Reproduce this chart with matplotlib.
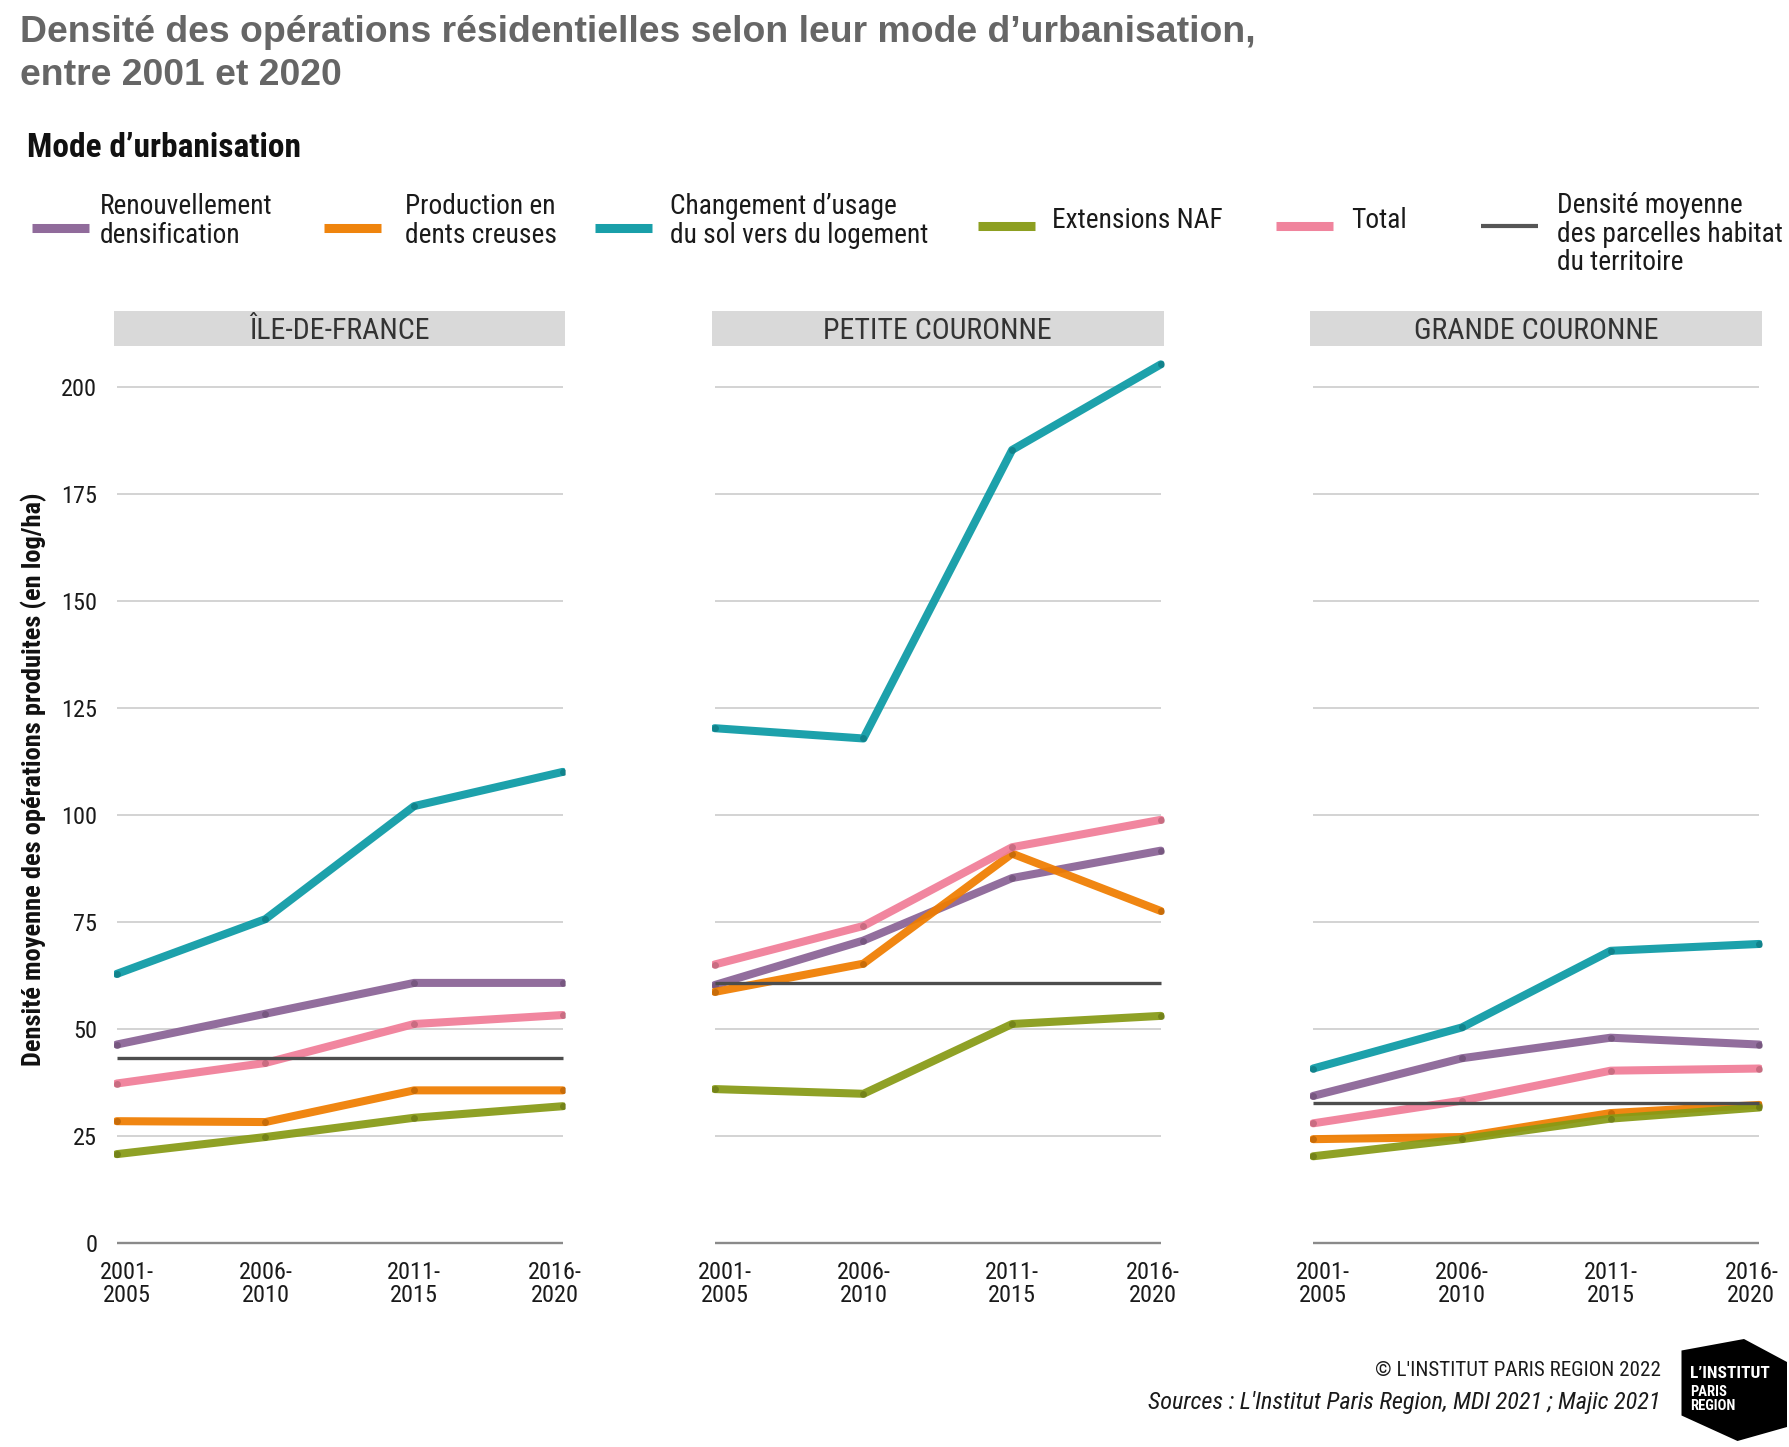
import matplotlib
matplotlib.use("Agg")
import matplotlib.pyplot as plt
from matplotlib import font_manager
from matplotlib.lines import Line2D
from matplotlib.patches import Polygon
from matplotlib.transforms import ScaledTranslation
from matplotlib.colors import to_rgb

# ---------------- data ----------------
periods = ["2001-\n2005", "2006-\n2010", "2011-\n2015", "2016-\n2020"]
panels = ["ÎLE-DE-FRANCE", "PETITE COURONNE", "GRANDE COURONNE"]
series_names = ["Renouvellement\ndensification", "Production en\ndents creuses",
                "Changement d’usage\ndu sol vers du logement", "Extensions NAF", "Total"]
mean_name = "Densité moyenne\ndes parcelles habitat\ndu territoire"

renouvellement = [[46.4, 53.6, 60.8, 60.8], [60.3, 70.7, 85.3, 91.7], [34.4, 43.2, 48.0, 46.4]]
production = [[28.5, 28.3, 35.7, 35.7], [58.7, 65.3, 91.0, 77.6], [24.3, 24.8, 30.4, 32.3]]
changement = [[62.9, 75.7, 102.1, 110.1], [120.3, 117.9, 185.3, 205.3], [40.8, 50.4, 68.3, 69.9]]
extensions = [[20.8, 24.8, 29.3, 32.0], [36.0, 34.9, 51.2, 53.1], [20.3, 24.3, 29.1, 31.7]]
total = [[37.3, 42.1, 51.2, 53.3], [65.1, 74.1, 92.5, 98.9], [28.0, 33.3, 40.3, 40.8]]
mean_density = [43.2, 60.8, 32.8]
yticks = [0, 25, 50, 75, 100, 125, 150, 175, 200]

colors = ["#8a6396", "#ef7d00", "#0c9aa5", "#879a15", "#f07d98"]
mean_color = "#4d4d4d"

# ---------------- fonts ----------------
avail = {f.name for f in font_manager.fontManager.ttflist}
def pick(*names):
    for n in names:
        if n in avail:
            return n
    return "DejaVu Sans"
WIDE = pick("Liberation Sans", "Arial", "DejaVu Sans")
NARROW = pick("Liberation Sans Narrow", "Roboto Condensed", "Open Sans Condensed", "Liberation Sans")

W, H = 1790, 1447
fig = plt.figure(figsize=(W / 100, H / 100), dpi=100)
fig.patch.set_facecolor("white")

def fx(px):
    return px / W
def fy(py):
    return 1 - py / H

def darker(c, f=0.7):
    r, g, b = to_rgb(c)
    return (r * f, g * f, b * f)

# ---------------- title ----------------
fig.text(fx(20), fy(14.5), "Densité des opérations résidentielles selon leur mode d’urbanisation,\nentre 2001 et 2020",
         ha="left", va="top", fontsize=26.9, fontweight="bold", color="#666666",
         family=WIDE, linespacing=1.3)

# ---------------- legend ----------------
fig.text(fx(27), fy(148), "Mode d’urbanisation", ha="left", va="center", fontsize=24,
         fontweight="bold", family=NARROW, color="#111111")

handle_x = [32, 324, 595, 978, 1276, 1481]
label_x = [100, 405, 670, 1052, 1351, 1557]
label_y = [221, 221, 221, 220, 220, 234]
handle_y = [228, 228, 228, 226, 226, 226]
leg_names = series_names + [mean_name]
leg_colors = colors + [mean_color]
for i in range(6):
    lw = 6.5 if i < 5 else 3
    fig.add_artist(Line2D([fx(handle_x[i]), fx(handle_x[i] + 57)], [fy(handle_y[i])] * 2,
                          color=leg_colors[i], lw=lw, solid_capstyle="butt",
                          alpha=0.95, transform=fig.transFigure))
    fig.text(fx(label_x[i]), fy(label_y[i]), leg_names[i], ha="left", va="center",
             fontsize=19.7, family=NARROW, color="#1a1a1a", linespacing=1.05)

# ---------------- panels ----------------
strip_left = [114, 712, 1310.5]
strip_w = 451.5
ax_top, ax_bot = 347, 1258
ymax, ymin = 209.35, -3.46
x = list(range(len(periods)))

all_series = [renouvellement, production, changement, extensions, total]
for p in range(3):
    ax = fig.add_axes([fx(strip_left[p]), fy(ax_bot), strip_w / W, (ax_bot - ax_top) / H])
    ax.set_xlim(-0.018, 3.018)
    ax.set_ylim(ymin, ymax)
    for s in ax.spines.values():
        s.set_visible(False)
    ax.hlines(yticks[1:], 0, 3, color="#d3d3d3", lw=1.4, zorder=1)
    ax.hlines([0], 0, 3, color="#8a8a8a", lw=1.7, zorder=1)
    ax.set_yticks(yticks)
    ax.set_xticks(x)
    ax.set_xticklabels(periods, fontsize=17.5, family=NARROW, color="#1a1a1a", linespacing=1.02)
    if p == 0:
        ax.set_yticklabels([str(t) for t in yticks], fontsize=17.5, family=NARROW, color="#1a1a1a")
    else:
        ax.set_yticklabels([])
    ax.tick_params(axis="both", length=0)
    ax.tick_params(axis="y", pad=12)
    ax.tick_params(axis="x", pad=2)
    xl = ax.get_xticklabels()
    xl[0].set_transform(xl[0].get_transform() + ScaledTranslation(10 / 100, 0, fig.dpi_scale_trans))
    xl[-1].set_transform(xl[-1].get_transform() + ScaledTranslation(-8 / 100, 0, fig.dpi_scale_trans))

    for k, ser in enumerate(all_series):
        ax.plot(x, ser[p], color=colors[k], lw=5.8, alpha=0.93, zorder=3 + k,
                solid_capstyle="round", solid_joinstyle="round")
        ax.plot(x, ser[p], "o", color=darker(colors[k]), ms=5, alpha=0.55, mec="none", zorder=3 + k)
    ax.hlines([mean_density[p]], 0, 3, color=mean_color, lw=2.4, zorder=9)

    # strip
    sax = fig.add_axes([fx(strip_left[p]), fy(346), strip_w / W, 35.5 / H])
    sax.set_facecolor("#d9d9d9")
    sax.set_xticks([]); sax.set_yticks([])
    for s in sax.spines.values():
        s.set_visible(False)
    sax.text(0.5, 0.43, panels[p], ha="center", va="center", fontsize=21.5,
             family=NARROW, color="#333333", transform=sax.transAxes)

# y label
fig.text(fx(34), fy(779), "Densité moyenne des opérations produites (en log/ha)", rotation=90,
         ha="center", va="center", fontsize=19, fontweight="bold", family=NARROW, color="#111111")

# ---------------- footer ----------------
fig.text(fx(1661), fy(1371), "© L'INSTITUT PARIS REGION 2022", ha="right", va="center",
         fontsize=15.1, family=NARROW, color="#1a1a1a")
fig.text(fx(1661), fy(1402), "Sources : L'Institut Paris Region, MDI 2021 ; Majic 2021", ha="right",
         va="center", fontsize=17.5, family=NARROW, style="italic", color="#1a1a1a")

logo_pts = [(1681.5, 1350.5), (1744, 1339), (1787, 1362), (1787, 1427), (1737.5, 1441), (1681.5, 1415.5)]
fig.add_artist(Polygon([(fx(a), fy(b)) for a, b in logo_pts], closed=True, facecolor="black",
                       edgecolor="none", transform=fig.transFigure))
fig.text(fx(1690), fy(1374), "L’INSTITUT", ha="left", va="center", fontsize=12.5,
         fontweight="bold", family=NARROW, color="white")
fig.text(fx(1690), fy(1399), "PARIS\nREGION", ha="left", va="center", fontsize=10.5,
         fontweight="bold", family=NARROW, color="white", linespacing=0.95)

fig.savefig("out.png", dpi=100, facecolor="white")
